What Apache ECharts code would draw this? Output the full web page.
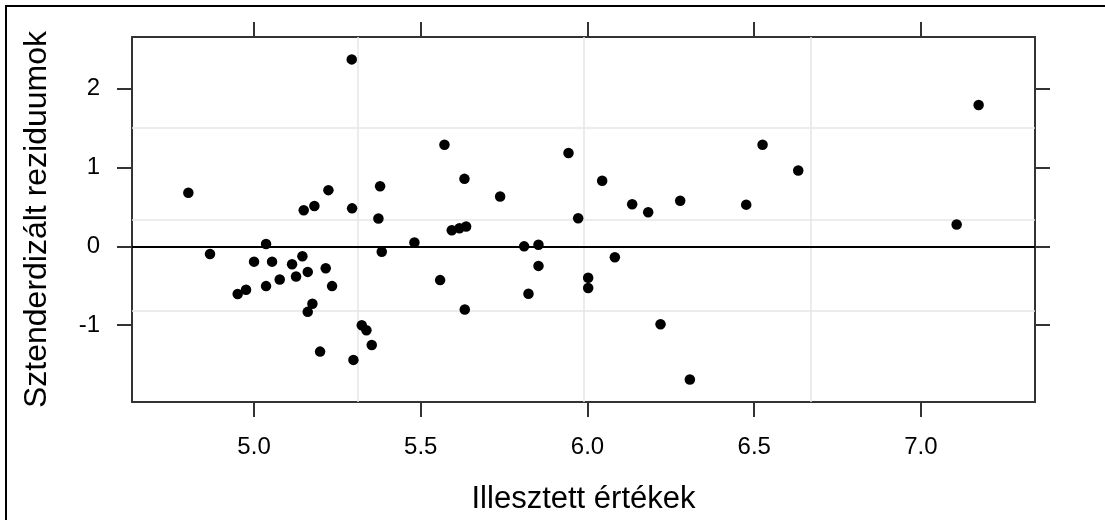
<!DOCTYPE html>
<html>
<head>
<meta charset="utf-8">
<script src="https://cdn.jsdelivr.net/npm/echarts@6/dist/echarts.min.js"></script>
<style>html,body{margin:0;padding:0;background:#fff}#c{width:1105px;height:520px}</style>
</head>
<body>
<div id="c"></div>
<script>
// Fitted values (x) and standardized residuals (y)
const fitted = [4.868, 5.036, 5.000, 5.054, 5.114, 5.145, 5.161, 5.215, 5.126, 5.077,
  5.036, 5.234, 4.976, 4.951, 5.175, 5.161, 5.323, 5.337, 5.353, 5.198,
  5.298, 5.149, 5.181, 5.294, 5.373, 5.383, 4.803, 5.223, 5.293, 5.378,
  5.571, 5.631, 5.738, 5.943, 6.044, 6.134, 6.182, 6.278, 6.476, 6.525,
  5.972, 5.593, 5.616, 5.636, 5.481, 5.810, 5.853, 6.082, 7.173, 6.632,
  7.107, 5.558, 5.632, 5.823, 5.853, 6.002, 6.002, 6.219, 6.307];
const residuals = [-0.097, 0.029, -0.194, -0.194, -0.227, -0.126, -0.324, -0.277, -0.383, -0.420,
  -0.504, -0.504, -0.550, -0.605, -0.727, -0.831, -1.000, -1.063, -1.252, -1.335,
  -1.440, 0.457, 0.511, 0.482, 0.353, -0.068, 0.680, 0.713, 2.371, 0.763,
  1.288, 0.856, 0.633, 1.184, 0.831, 0.533, 0.432, 0.579, 0.529, 1.288,
  0.356, 0.205, 0.230, 0.252, 0.050, 0.000, 0.020, -0.139, 1.792, 0.961,
  0.277, -0.428, -0.802, -0.601, -0.248, -0.399, -0.529, -0.987, -1.688];
const xTicks = [5.0, 5.5, 6.0, 6.5, 7.0];
const yTicks = [-1, 0, 1, 2];
const xRange = [4.634, 7.342];
const yRange = [-1.974, 2.655];
const xTitle = 'Illesztett értékek';
const yTitle = 'Sztenderdizált reziduumok';

const points = fitted.map((x, i) => [x, residuals[i]]);
const quart = r => [1, 2, 3].map(k => r[0] + k * (r[1] - r[0]) / 4);
const vGrid = quart(xRange);
const hGrid = quart(yRange);

const font = "'Liberation Sans', Arial, sans-serif";
const lineCol = '#333';
const tickStyle = { show: true, inside: false, length: 15, lineStyle: { color: lineCol, width: 2 } };
const axisLine = { show: true, onZero: false, lineStyle: { color: lineCol, width: 2 } };

const chart = echarts.init(document.getElementById('c'), null, { renderer: 'canvas' });
chart.setOption({
  animation: false,
  backgroundColor: '#fff',
  grid: { left: 132, top: 37, right: 70, bottom: 117, containLabel: false },
  graphic: [{
    type: 'rect', shape: { x: 6, y: 6, width: 1200, height: 600 },
    style: { fill: 'none', stroke: '#000', lineWidth: 2 }, silent: true
  }],
  xAxis: [{
    type: 'value', position: 'bottom', min: xRange[0], max: xRange[1],
    axisLine: axisLine,
    axisTick: Object.assign({ customValues: xTicks }, tickStyle),
    axisLabel: { customValues: xTicks, formatter: v => v.toFixed(1), color: '#000', fontSize: 24, fontFamily: font, margin: 33 },
    splitLine: { show: false },
    name: xTitle, nameLocation: 'middle', nameGap: 82,
    nameTextStyle: { color: '#000', fontSize: 31, fontFamily: font }
  }, {
    type: 'value', position: 'top', min: xRange[0], max: xRange[1],
    axisLine: axisLine,
    axisTick: Object.assign({ customValues: xTicks }, tickStyle),
    axisLabel: { show: false },
    splitLine: { show: false }
  }],
  yAxis: [{
    type: 'value', position: 'left', min: yRange[0], max: yRange[1],
    axisLine: axisLine,
    axisTick: Object.assign({ customValues: yTicks }, tickStyle),
    axisLabel: { customValues: yTicks, formatter: v => String(v), color: '#000', fontSize: 24, fontFamily: font, margin: 32 },
    splitLine: { show: false },
    name: yTitle, nameLocation: 'middle', nameGap: 79,
    nameTextStyle: { color: '#000', fontSize: 32, fontFamily: font }
  }, {
    type: 'value', position: 'right', min: yRange[0], max: yRange[1],
    axisLine: axisLine,
    axisTick: Object.assign({ customValues: yTicks }, tickStyle),
    axisLabel: { show: false },
    splitLine: { show: false }
  }],
  series: [{
    type: 'line', data: [], xAxisIndex: 0, yAxisIndex: 0, silent: true, z: 1,
    markLine: {
      silent: true, symbol: 'none', z: 1, animation: false,
      label: { show: false },
      lineStyle: { color: '#e6e6e6', width: 1.5, type: 'solid' },
      data: vGrid.map(v => ({ xAxis: v })).concat(hGrid.map(v => ({ yAxis: v })))
    }
  }, {
    type: 'line', data: [], xAxisIndex: 0, yAxisIndex: 0, silent: true, z: 2,
    markLine: {
      silent: true, symbol: 'none', z: 2, animation: false,
      label: { show: false },
      lineStyle: { color: '#000', width: 2, type: 'solid' },
      data: [{ yAxis: 0 }]
    }
  }, {
    type: 'scatter', data: points, xAxisIndex: 0, yAxisIndex: 0, z: 10,
    symbol: 'circle', symbolSize: 10.5,
    itemStyle: { color: '#000', opacity: 1 }
  }]
});
</script>
</body>
</html>
